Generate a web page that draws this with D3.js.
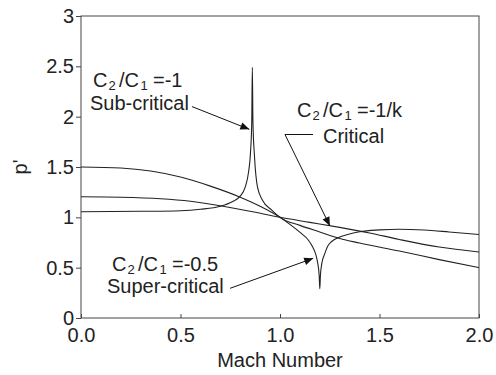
<!DOCTYPE html>
<html>
<head>
<meta charset="utf-8">
<script src="https://cdn.jsdelivr.net/npm/d3@7"></script>
<style>
  body { margin: 0; background: #fff; }
  svg { font-family: "Liberation Sans", Arial, sans-serif; }
  .curve { fill: none; stroke: #222; stroke-width: 1.1; }
  .tick text { font-size: 20px; fill: #222; }
  .tick line { stroke: #444; }
  .label { font-size: 20px; fill: #222; }
  .sub { font-size: 13px; fill: #222; }
</style>
</head>
<body>
<svg id="chart" width="496" height="375"></svg>
<script>
// values (Mach number, p')
const machSub = [0, 0.3, 0.5, 0.6, 0.7, 0.76, 0.8, 0.825, 0.842, 0.852, 0.858, 0.861,
                 0.864, 0.872, 0.887, 0.912, 0.96, 1.0, 1.1, 1.2, 1.3, 1.4, 1.6, 1.8, 2.0];
const pSub    = [1.055, 1.06, 1.066, 1.08, 1.11, 1.155, 1.21, 1.3, 1.45, 1.65, 1.95, 2.49,
                 1.95, 1.6, 1.3, 1.17, 1.07, 1.0, 0.92, 0.855, 0.79, 0.745, 0.665, 0.58, 0.5];

const machCrit = [0, 0.2, 0.4, 0.55, 0.7, 0.85, 1.0, 1.15, 1.3, 1.45, 1.6, 1.8, 2.0];
const pCrit    = [1.205, 1.2, 1.185, 1.16, 1.115, 1.06, 1.0, 0.95, 0.9, 0.845, 0.78, 0.705, 0.655];

const machSuper = [0, 0.2, 0.35, 0.5, 0.65, 0.8, 0.9, 1.0, 1.05, 1.104, 1.14, 1.163, 1.18, 1.19,
                   1.197, 1.2, 1.203, 1.21, 1.225, 1.239, 1.26, 1.289, 1.34, 1.4, 1.5, 1.6, 1.725, 1.85, 2.0];
const pSuper    = [1.5, 1.49, 1.46, 1.4, 1.31, 1.2, 1.11, 1.0, 0.93, 0.845, 0.78, 0.71, 0.63, 0.54,
                   0.42, 0.29, 0.42, 0.54, 0.64, 0.71, 0.76, 0.795, 0.83, 0.857, 0.875, 0.882, 0.874, 0.855, 0.83];

const xTicks = [0, 0.5, 1.0, 1.5, 2.0];
const xTickLabels = ["0.0", "0.5", "1.0", "1.5", "2.0"];
const yTicks = [0, 0.5, 1, 1.5, 2, 2.5, 3];
const yTickLabels = ["0", "0.5", "1", "1.5", "2", "2.5", "3"];

const svg = d3.select("#chart");

const x = d3.scaleLinear().domain([0, 2]).range([81, 479]);
const y = d3.scaleLinear().domain([0, 3]).range([318, 16]);

// arrow head
svg.append("defs").append("marker")
    .attr("id", "head")
    .attr("viewBox", "0 -5 10 10")
    .attr("refX", 10)
    .attr("refY", 0)
    .attr("markerUnits", "userSpaceOnUse")
    .attr("markerWidth", 15)
    .attr("markerHeight", 9)
    .attr("orient", "auto")
    .append("path")
    .attr("d", "M0,-4.2L10,0L0,4.2Z")
    .attr("fill", "#111");

// frame
svg.append("rect")
    .attr("x", x(0)).attr("y", y(3))
    .attr("width", x(2) - x(0)).attr("height", y(0) - y(3))
    .attr("fill", "none").attr("stroke", "#444").attr("stroke-width", 1);

// axes
const yAxis = svg.append("g")
    .attr("transform", `translate(${x(0)},0)`)
    .call(d3.axisLeft(y).tickValues(yTicks)
        .tickFormat((d, i) => yTickLabels[i])
        .tickSize(5).tickPadding(2));
yAxis.select(".domain").remove();

const xAxis = svg.append("g")
    .attr("transform", `translate(0,${y(0)})`)
    .call(d3.axisBottom(x).tickValues(xTicks)
        .tickFormat((d, i) => xTickLabels[i])
        .tickSize(-4).tickPadding(10));
xAxis.select(".domain").remove();
svg.selectAll(".tick text").attr("font-family", null).attr("font-size", null);

// axis titles
svg.append("text")
    .attr("class", "label")
    .attr("x", (x(0) + x(2)) / 2)
    .attr("y", 367)
    .attr("text-anchor", "middle")
    .text("Mach Number");

svg.append("text")
    .attr("class", "label")
    .attr("transform", `translate(27,${y(1.5)}) rotate(-90)`)
    .attr("text-anchor", "middle")
    .text("p'");

// curves: the two with the singular points keep monotone pieces,
// the critical one is smooth
const sharp = d3.line()
    .x(d => x(d[0]))
    .y(d => y(d[1]))
    .curve(d3.curveMonotoneX);
const smooth = d3.line()
    .x(d => x(d[0]))
    .y(d => y(d[1]))
    .curve(d3.curveCatmullRom.alpha(0.5));

svg.append("path").attr("class", "curve").attr("d", sharp(d3.zip(machSub, pSub)));
svg.append("path").attr("class", "curve").attr("d", smooth(d3.zip(machCrit, pCrit)));
svg.append("path").attr("class", "curve").attr("d", sharp(d3.zip(machSuper, pSuper)));

// ratio label with subscripts, each piece its own text
function ratioLabel(px, py, rhs) {
    const g = svg.append("g").attr("transform", `translate(${px},${py})`);
    g.append("text").attr("class", "label").attr("x", 0).text("C");
    g.append("text").attr("class", "sub").attr("x", 15.5).attr("y", 3).text("2");
    g.append("text").attr("class", "label").attr("x", 26).text("/C");
    g.append("text").attr("class", "sub").attr("x", 47.5).attr("y", 3).text("1");
    g.append("text").attr("class", "label").attr("x", 60).text("=" + rhs);
}

ratioLabel(93, 87, "-1");
svg.append("text").attr("class", "label").attr("x", 90).attr("y", 110).text("Sub-critical");

ratioLabel(297, 117, "-1/k");
svg.append("text").attr("class", "label").attr("x", 323).attr("y", 143).text("Critical");

ratioLabel(112, 271, "-0.5");
svg.append("text").attr("class", "label").attr("x", 107).attr("y", 293).text("Super-critical");

// arrows (in data coordinates)
function arrow(points) {
    svg.append("path")
        .attr("d", d3.line()(points.map(d => [x(d[0]), y(d[1])])))
        .attr("fill", "none")
        .attr("stroke", "#111")
        .attr("stroke-width", 1)
        .attr("marker-end", "url(#head)");
}

arrow([[0.558, 2.10], [0.846, 1.874]]);
arrow([[1.166, 1.823], [1.025, 1.823], [1.251, 0.914]]);
arrow([[0.749, 0.295], [1.167, 0.593]]);
</script>
</body>
</html>
